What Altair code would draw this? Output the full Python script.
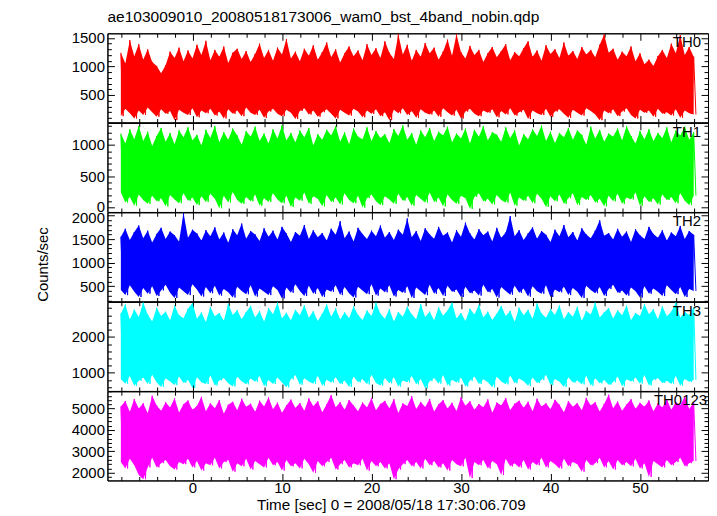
import altair as alt
import pandas as pd

TITLE = "ae103009010_20080518173006_wam0_bst_4band_nobin.qdp"
X_TITLE = "Time [sec] 0 = 2008/05/18 17:30:06.709"
Y_TITLE = "Counts/sec"
BANDS = ["TH0", "TH1", "TH2", "TH3", "TH0123"]
COLORS = ["#ff0000", "#00ff00", "#0000ff", "#00ffff", "#ff00ff"]

# time grid of the envelope samples (seconds)
T0 = -8.0
DT = 0.5
X_DOMAIN = [-9.5, 57.6]
X_TICKS = list(range(-8, 57, 2))
Y_DOMAINS = [[19, 1581], [-70, 1352], [175, 2070], [497, 2975], [1640, 5810]]
Y_MAJOR = [500, 500, 500, 1000, 1000]
Y_MINOR = [100, 100, 100, 200, 200]

# upper / lower excursions of each light curve, every 0.5 s
TH0_HI = [1240, 1050, 1460, 1180, 1390, 1120, 1300, 1080, 1010, 880,
          1020, 1260, 1150, 1330, 1090, 1280, 1140, 1380, 1200, 1450,
          1110, 1290, 1170, 1350, 1060, 1240, 1310, 1130, 1270, 1080,
          1220, 1400, 1150, 1290, 1100, 1330, 1210, 1480, 1140, 1260,
          1090, 1310, 1190, 1370, 1120, 1250, 1420, 1160, 1300, 1070,
          1230, 1350, 1180, 1280, 1110, 1390, 1200, 1320, 1150, 1440,
          1240, 1130, 1560, 1210, 1380, 1100, 1290, 1170, 1410, 1230,
          1330, 1120, 1260, 1470, 1190, 1560, 1250, 1140, 1360, 1200,
          1290, 1080, 1230, 1340, 1160, 1270, 1390, 1110, 1250, 1180,
          1320, 1440, 1170, 1280, 1100, 1370, 1220, 1300, 1150, 1420,
          1190, 1270, 1130, 1340, 1210, 1290, 1160, 1380, 1560, 1240,
          1310, 1120, 1260, 1180, 1350, 1090, 1230, 1040, 1120, 1010,
          1180, 1290, 1150, 1400, 1230, 1550, 1200, 1340, 1170]
TH0_LO = [130, 260, 180, 90, 230, 150, 280, 200, 120, 250,
          170, 220, 60, 240, 190, 150, 270, 110, 230, 180,
          260, 140, 210, 90, 250, 170, 230, 130, 280, 190,
          150, 240, 100, 210, 260, 170, 130, 240, 190, 80,
          220, 270, 160, 230, 120, 200, 250, 170, 90, 240,
          190, 140, 260, 210, 110, 230, 170, 250, 130, 200,
          60, 240, 180, 270, 150, 220, 100, 250, 190, 160,
          230, 120, 270, 200, 140, 240, 90, 210, 260, 170,
          130, 230, 190, 250, 110, 220, 160, 270, 140, 200,
          240, 80, 230, 180, 150, 260, 120, 210, 250, 170,
          100, 240, 190, 140, 270, 220, 160, 60, 230, 180,
          250, 130, 210, 270, 150, 90, 240, 190, 230, 120,
          260, 170, 200, 140, 250, 100, 230, 180, 160]

TH1_HI = [1180, 1020, 1250, 1090, 1300, 1060, 1210, 980, 1140, 1270,
          1050, 1190, 1010, 1230, 1120, 1280, 1070, 1160, 990, 1240,
          1110, 1300, 1040, 1200, 1080, 1260, 1150, 1000, 1220, 1130,
          1290, 1060, 1180, 1020, 1250, 1100, 1310, 1070, 1190, 1040,
          1230, 1120, 1270, 990, 1170, 1080, 1240, 1150, 1300, 1050,
          1200, 1010, 1260, 1130, 1090, 1280, 1060, 1220, 1110, 1170,
          1030, 1250, 1140, 1310, 1080, 1190, 1000, 1230, 1120, 1270,
          1060, 1210, 1150, 1290, 1040, 1180, 1100, 1260, 1020, 1240,
          1130, 1300, 1070, 1200, 1160, 1050, 1280, 1110, 1230, 990,
          1170, 1090, 1250, 1140, 1310, 1060, 1210, 1030, 1190, 1120,
          1270, 1080, 1230, 1160, 1000, 1290, 1100, 1240, 1050, 1180,
          1130, 1260, 1070, 1300, 1140, 1020, 1220, 1090, 1250, 1060,
          1190, 1110, 1280, 1040, 1230, 1150, 1290, 1080, 1200]
TH1_LO = [240, 80, 170, 30, 210, 120, 60, 190, 100, 150,
          20, 200, 130, 70, 230, 110, 160, 40, 180, 90,
          220, 140, -10, 190, 80, 250, 120, 60, 170, 100,
          210, 30, 150, 90, 230, 130, 70, 190, 10, 160,
          110, 240, 60, 180, 140, 20, 200, 90, 160, 50,
          230, 120, 70, 190, 0, 150, 210, 100, 40, 180,
          130, 60, 220, 110, 170, 30, 200, 140, 80, 240,
          90, 160, 20, 210, 120, 60, 190, 150, -20, 170,
          230, 100, 140, 50, 200, 120, 80, 240, 30, 160,
          110, 190, 70, 220, 140, 10, 180, 100, 210, 60,
          150, 230, 40, 170, 120, 200, 80, 140, 20, 190,
          100, 220, 60, 160, 130, 240, 30, 180, 90, 150,
          50, 210, 120, 170, 70, 230, 110, 40, 190]

TH2_HI = [1550, 1720, 1480, 1650, 1790, 1520, 1680, 1430, 1610, 1740,
          1500, 1660, 1580, 1450, 2050, 1530, 1700, 1620, 1470, 1690,
          1560, 1750, 1490, 1640, 1420, 1710, 1580, 1830, 1510, 1670,
          1600, 1460, 1730, 1550, 1680, 1490, 1760, 1620, 1440, 1650,
          1570, 1800, 1500, 1690, 1540, 1630, 1470, 1720, 1590, 1880,
          1520, 1660, 1450, 1740, 1610, 1500, 1680, 1560, 1790, 1530,
          1650, 1480, 1700, 1590, 1940, 1540, 1670, 1460, 1730, 1600,
          1510, 1760, 1570, 1640, 1430, 1690, 1550, 1850, 1620, 1490,
          1710, 1580, 1660, 1450, 1740, 1530, 1640, 1990, 1560, 1690,
          1480, 1620, 1750, 1510, 1670, 1590, 1440, 1700, 1560, 1800,
          1540, 1650, 1470, 1730, 1600, 1520, 1680, 1900, 1570, 1630,
          1490, 1720, 1550, 1660, 1440, 1710, 1580, 1500, 1760, 1610,
          1530, 1690, 1470, 1640, 1560, 1780, 1500, 1670, 1590]
TH2_LO = [420, 310, 520, 380, 270, 460, 340, 500, 290, 410,
          530, 360, 250, 470, 390, 310, 540, 430, 280, 480,
          350, 510, 300, 440, 370, 260, 490, 400, 330, 520,
          280, 450, 380, 310, 500, 420, 240, 470, 360, 540,
          400, 290, 510, 340, 460, 270, 430, 380, 520, 310,
          480, 350, 260, 490, 410, 330, 540, 300, 450, 370,
          520, 280, 420, 360, 500, 250, 470, 390, 310, 530,
          340, 460, 290, 510, 380, 430, 270, 490, 350, 410,
          300, 530, 370, 440, 260, 480, 400, 320, 510, 360,
          450, 280, 500, 390, 340, 520, 270, 430, 370, 490,
          310, 460, 380, 250, 510, 420, 350, 480, 290, 440,
          530, 360, 410, 300, 470, 390, 260, 500, 340, 450,
          380, 290, 520, 420, 330, 480, 270, 440, 400]

TH3_HI = [2650, 2900, 2480, 2760, 2550, 2950, 2620, 2430, 2810, 2580,
          2700, 2460, 2870, 2600, 2520, 2780, 2940, 2500, 2680, 2410,
          2830, 2570, 2660, 2450, 2920, 2610, 2740, 2490, 2690, 2860,
          2540, 2720, 2420, 2800, 2630, 2950, 2510, 2670, 2460, 2750,
          2600, 2880, 2530, 2710, 2440, 2640, 2900, 2560, 2790, 2480,
          2680, 2520, 2850, 2610, 2470, 2730, 2580, 2950, 2640, 2500,
          2770, 2430, 2690, 2560, 2840, 2620, 2490, 2910, 2550, 2700,
          2460, 2820, 2590, 2730, 2950, 2510, 2660, 2440, 2780, 2620,
          2890, 2540, 2700, 2470, 2640, 2860, 2580, 2720, 2420, 2810,
          2600, 2750, 2500, 2930, 2650, 2530, 2770, 2610, 2880, 2490,
          2690, 2560, 2840, 2450, 2720, 2620, 2950, 2540, 2680, 2800,
          2510, 2740, 2600, 2870, 2460, 2660, 2580, 2910, 2630, 2770,
          2490, 2850, 2570, 2700, 2950, 2530, 2690, 2610, 2820]
TH3_LO = [820, 700, 910, 640, 780, 870, 690, 950, 730, 610,
          850, 760, 660, 900, 720, 810, 580, 880, 740, 690,
          930, 650, 790, 860, 710, 620, 890, 770, 680, 840,
          750, 910, 630, 800, 690, 870, 730, 600, 820, 940,
          670, 850, 760, 700, 920, 640, 810, 730, 880, 690,
          790, 610, 900, 740, 830, 680, 950, 720, 650, 860,
          710, 880, 620, 790, 740, 910, 680, 830, 570, 770,
          860, 700, 940, 650, 810, 730, 870, 620, 780, 900,
          690, 820, 740, 600, 890, 760, 680, 930, 710, 840,
          770, 640, 870, 720, 800, 950, 660, 830, 750, 610,
          880, 730, 790, 680, 920, 640, 850, 710, 800, 670,
          740, 900, 630, 820, 760, 870, 700, 940, 650, 810,
          860, 720, 780, 690, 910, 640, 830, 750, 800]

TH0123_HI = [5100, 5350, 4850, 5450, 5000, 5250, 4780, 5600, 5150, 4900,
             5300, 5050, 5480, 4820, 5200, 5380, 4950, 5120, 5550, 4880,
             5250, 5020, 5400, 4760, 5180, 5320, 4920, 5460, 5080, 5230,
             4850, 5370, 5100, 5520, 4970, 5280, 4800, 5150, 5420, 5030,
             5260, 4900, 5480, 5110, 5340, 4830, 5200, 5630, 5060, 5300,
             4950, 5400, 5140, 4870, 5290, 5050, 5500, 4920, 5220, 5360,
             5010, 5440, 4790, 5240, 5120, 5580, 4980, 5310, 5070, 5450,
             4860, 5200, 5390, 5000, 5270, 4890, 5520, 5130, 5340, 4940,
             5210, 5060, 5430, 4810, 5280, 5150, 5490, 4930, 5230, 5370,
             5040, 5320, 4880, 5460, 5100, 5250, 4970, 5410, 5180, 4830,
             5350, 5080, 5260, 4920, 5500, 5140, 5300, 4860, 5220, 5650,
             5010, 5330, 4900, 5190, 5440, 4990, 5270, 5090, 5380, 4870,
             5240, 5050, 5420, 4940, 5310, 5160, 5560, 4980, 5280]
TH0123_LO = [2500, 2200, 2650, 2350, 1900, 1700, 2250, 2700, 2250, 2450,
             2600, 2300, 2150, 2500, 2400, 2650, 2250, 2550, 2100, 2450,
             2350, 2700, 2200, 2500, 2600, 2050, 2450, 2300, 2650, 2150,
             2550, 2400, 2250, 2700, 2350, 2500, 2100, 2600, 2300, 2450,
             2200, 2650, 2400, 2000, 2550, 2300, 2500, 2700, 2150, 2400,
             2600, 2250, 2450, 2350, 2650, 2100, 2550, 2300, 2500, 2200,
             2450, 1700, 2150, 2400, 2600, 2300, 2500, 2200, 2650, 2350,
             2550, 2250, 2450, 2100, 2600, 2400, 2300, 2700, 1750, 2500,
             2350, 2600, 2200, 2550, 2400, 1900, 2650, 2300, 2450, 2250,
             2600, 2150, 2500, 2350, 2700, 2250, 2550, 2400, 2200, 2650,
             2300, 2500, 2400, 2050, 2600, 2350, 2450, 2700, 2250, 2550,
             2150, 2600, 2350, 2500, 2300, 2650, 2200, 2450, 1800, 2550,
             2400, 2250, 2600, 2350, 2500, 2700, 2300, 2450, 2550]

HI = [TH0_HI, TH1_HI, TH2_HI, TH3_HI, TH0123_HI]
LO = [TH0_LO, TH1_LO, TH2_LO, TH3_LO, TH0123_LO]

FONT = "Liberation Sans"
W = 604
H = 89.7
LABEL_RIGHT = [597, 597, 597, 597, 603]
# small vertical nudges of crowded tick labels at panel joins
LABEL_NUDGE = ["0", "datum.value === 0 ? -1 : 0", "datum.value === 2000 ? 2 : 0", "0", "0"]


def panel(i):
    n = min(len(HI[i]), len(LO[i]))
    env = pd.DataFrame({
        "t": [T0 + DT * k for k in range(n)],
        "hi": HI[i][:n],
        "lo": LO[i][:n],
    })
    # the same samples as a line: each high, then its low half a bin later
    ts, vs, order = [], [], []
    for k in range(n):
        ts += [T0 + DT * k, T0 + DT * k + DT / 2]
        vs += [HI[i][k], LO[i][k]]
        order += [2 * k, 2 * k + 1]
    zig = pd.DataFrame({"t": ts, "v": vs, "o": order})

    xs = alt.Scale(domain=X_DOMAIN, nice=False, zero=False)
    ys = alt.Scale(domain=Y_DOMAINS[i], nice=False, zero=False)
    lo_d, hi_d = Y_DOMAINS[i]
    step = Y_MINOR[i]
    start = -(-lo_d // step) * step
    yvals = list(range(int(start), int(hi_d) + 1, step))
    major = Y_MAJOR[i]
    last = i == len(HI) - 1

    x_tick = {"expr": "datum.value % 10 === 0 ? -7 : -4"}
    y_tick = {"expr": "datum.value %% %d === 0 ? -7 : -4" % major}

    xb = dict(values=X_TICKS, tickSize=x_tick, labels=last, domain=True,
              labelExpr="datum.value % 10 === 0 ? format(datum.value, 'd') : ''",
              labelPadding=7)
    if last:
        xb.update(title=X_TITLE, titleX=285, titleY=29, titleFontSize=15.3,
                  titleBaseline="alphabetic", titleAlign="center")
    else:
        xb.update(title=None)
    yl = dict(values=yvals, tickSize=y_tick, labelPadding=10, domain=True,
              labelOffset={"expr": LABEL_NUDGE[i]},
              labelExpr="datum.value %% %d === 0 ? format(datum.value, 'd') : ''" % major)
    if i == 2:
        yl.update(title=Y_TITLE, titleX=-60, titleY=52,
                  titleBaseline="alphabetic", titleAlign="center")
    else:
        yl.update(title=None)

    area = alt.Chart(env).mark_area(color=COLORS[i], opacity=1, clip=True).encode(
        x=alt.X("t:Q", scale=xs, axis=alt.Axis(orient="bottom", **xb)),
        y=alt.Y("hi:Q", scale=ys, axis=alt.Axis(orient="left", **yl)),
        y2="lo:Q",
    )
    curve = alt.Chart(zig).mark_line(color=COLORS[i], strokeWidth=1,
                                     strokeJoin="bevel", clip=True).encode(
        x=alt.X("t:Q", scale=xs, axis=alt.Axis(orient="top", values=X_TICKS,
                                                tickSize=x_tick, labels=False,
                                                title=None, domain=True)),
        y=alt.Y("v:Q", scale=ys, axis=alt.Axis(orient="right", values=yvals,
                                                tickSize=y_tick, labels=False,
                                                title=None, domain=True)),
        order="o:Q",
    )
    label = alt.Chart(pd.DataFrame({"name": [BANDS[i]]})).mark_text(
        align="right", baseline="middle", font=FONT, fontSize=15, color="black"
    ).encode(x=alt.value(LABEL_RIGHT[i]), y=alt.value(9), text="name:N")

    ch = alt.layer(area, curve, label).resolve_axis(
        x="independent", y="independent").properties(width=W, height=H)
    if i == 0:
        ch = ch.properties(title=alt.TitleParams(
            TITLE, anchor="start", frame="group", font=FONT, fontSize=15.6,
            fontWeight="normal", color="black", offset=5))
    return ch


chart = alt.vconcat(*[panel(i) for i in range(len(HI))], spacing=0, bounds="flush")
chart = chart.properties(
    padding={"left": 27, "top": 0, "right": 0, "bottom": 0},
    background="white",
).configure_view(stroke="black", strokeWidth=1).configure_axis(
    labelFont=FONT, labelFontSize=15, labelColor="black",
    titleFont=FONT, titleFontSize=15, titleFontWeight="normal", titleColor="black",
    tickColor="black", tickWidth=1, domainColor="black", domainWidth=1,
    grid=False, labelOverlap=False, labelFlush=False,
)

chart.save("out.html", embed_options={"renderer": "svg", "actions": False})
